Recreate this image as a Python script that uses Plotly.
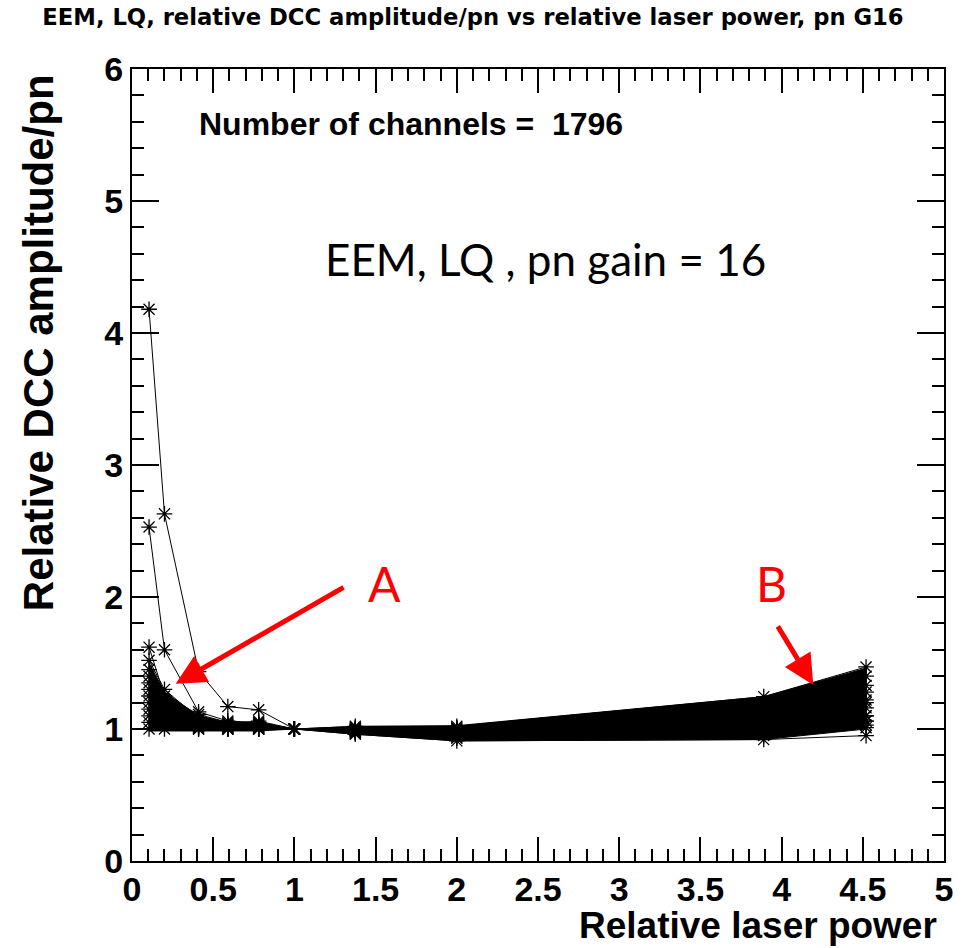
import plotly.graph_objects as go

# Relative laser power steps
laser_power = [0.105, 0.2, 0.41, 0.59, 0.78, 1.0, 1.375, 2.0, 3.89, 4.52]

# Envelope of all 1796 channels at each power step
band_upper = [1.50, 1.28, 1.10, 1.05, 1.05, 1.0, 1.02, 1.025, 1.245, 1.46]
band_lower = [0.985, 0.985, 0.985, 0.985, 0.985, 1.0, 0.96, 0.91, 0.92, 1.0]

# Selected channels: DCC amplitude/pn relative to the value at power 1
channel_rows = [
    [4.18, 2.63, 1.435, 1.17, 1.145, 1.0, 0.99, 0.98, 1.03, 1.06],
    [2.53, 1.60, 1.13, 1.06, 1.05, 1.0, 0.99, 0.98, 1.05, 1.10],
    [1.62, 1.25, 1.11, 1.05, 1.04, 1.0, 1.00, 1.00, 1.10, 1.20],
    [1.52, 1.30, 1.08, 1.04, 1.06, 1.0, 1.02, 1.02, 1.245, 1.47],
    [1.45, 1.20, 1.07, 1.03, 1.03, 1.0, 1.01, 1.01, 1.20, 1.40],
    [1.40, 1.15, 1.06, 1.03, 1.03, 1.0, 1.00, 1.00, 1.15, 1.33],
    [1.35, 1.22, 1.05, 1.02, 1.02, 1.0, 1.00, 0.99, 1.12, 1.28],
    [1.30, 1.10, 1.04, 1.02, 1.02, 1.0, 0.99, 0.98, 1.08, 1.22],
    [1.25, 1.18, 1.03, 1.01, 1.01, 1.0, 0.99, 0.97, 1.05, 1.16],
    [1.20, 1.08, 1.02, 1.01, 1.01, 1.0, 0.98, 0.96, 1.02, 1.10],
    [1.15, 1.12, 1.02, 1.00, 1.00, 1.0, 0.98, 0.95, 1.00, 1.06],
    [1.10, 1.05, 1.01, 1.00, 1.00, 1.0, 0.97, 0.94, 0.97, 1.03],
    [1.05, 1.03, 1.00, 1.00, 1.00, 1.0, 0.97, 0.93, 0.95, 1.01],
    [1.00, 1.00, 1.00, 1.00, 1.00, 1.0, 0.96, 0.91, 0.92, 0.95],
]

n_channels = 1796

x_ticks = [0, 0.5, 1, 1.5, 2, 2.5, 3, 3.5, 4, 4.5, 5]
y_ticks = [0, 1, 2, 3, 4, 5, 6]

ROOT_FONT = "Liberation Sans, Arial, Helvetica, sans-serif"
NOTE_FONT = "Lato, Carlito, Calibri, sans-serif"

fig = go.Figure()

# Dense band formed by the bulk of the channels
fig.add_trace(go.Scatter(
    x=laser_power + laser_power[::-1],
    y=band_upper + band_lower[::-1],
    mode="lines",
    fill="toself",
    fillcolor="black",
    line=dict(color="black", width=1),
    hoverinfo="skip",
    showlegend=False,
))

for row in channel_rows:
    fig.add_trace(go.Scatter(
        x=laser_power,
        y=row,
        mode="lines+markers",
        line=dict(color="black", width=1),
        marker=dict(symbol="asterisk-open", size=13,
                    line=dict(color="black", width=1.3)),
        showlegend=False,
    ))


def px_x(p):
    return (p - 132) / 818


def px_y(p):
    return (861 - p) / 792


annotations = [
    dict(text="Relative DCC amplitude/pn", textangle=-90,
         xref="paper", yref="paper", x=px_x(38), y=px_y(72),
         xanchor="center", yanchor="top", showarrow=False,
         font=dict(family=ROOT_FONT, size=42, color="black", weight="bold")),
    dict(text="Relative laser power",
         xref="paper", yref="paper", x=px_x(945), y=px_y(925),
         xanchor="right", yanchor="middle", showarrow=False,
         font=dict(family=ROOT_FONT, size=37, color="black", weight="bold")),
    dict(text=f"Number of channels =  {n_channels}",
         xref="paper", yref="paper", x=px_x(197), y=px_y(124),
         xanchor="left", yanchor="middle", showarrow=False,
         font=dict(family=ROOT_FONT, size=32, color="black", weight="bold")),
    dict(text="EEM, LQ , pn gain = 16",
         xref="paper", yref="paper", x=px_x(549), y=px_y(259),
         xanchor="center", yanchor="middle", showarrow=False,
         font=dict(family=NOTE_FONT, size=44, color="black")),
    dict(text="A",
         xref="paper", yref="paper", x=px_x(386), y=px_y(583),
         xanchor="center", yanchor="middle", showarrow=False,
         font=dict(family=NOTE_FONT, size=48, color="red")),
    dict(text="B",
         xref="paper", yref="paper", x=px_x(776), y=px_y(583),
         xanchor="center", yanchor="middle", showarrow=False,
         font=dict(family=NOTE_FONT, size=48, color="red")),
    # Arrows pointing at the two regions of interest
    dict(text="", x=0.269, y=1.342, ax=1.312, ay=2.08,
         xref="x", yref="y", axref="x", ayref="y",
         showarrow=True, arrowhead=2, arrowsize=1.2, arrowwidth=5,
         arrowcolor="red", standoff=0, startstandoff=0),
    dict(text="", x=4.195, y=1.334, ax=3.971, ay=1.789,
         xref="x", yref="y", axref="x", ayref="y",
         showarrow=True, arrowhead=2, arrowsize=1.2, arrowwidth=5,
         arrowcolor="red", standoff=0, startstandoff=0),
]

axis_common = dict(
    showgrid=False, zeroline=False,
    showline=True, linecolor="black", linewidth=2, mirror="allticks",
    ticks="inside", tickcolor="black", tickwidth=1.5,
    tickfont=dict(family=ROOT_FONT, size=34, color="black", weight="bold"),
)

fig.update_layout(
    width=965, height=948,
    margin=dict(l=132, r=15, t=69, b=87, pad=0),
    paper_bgcolor="white", plot_bgcolor="white",
    title=dict(
        text="EEM, LQ, relative DCC amplitude/pn vs relative laser power, pn G16",
        x=473 / 965, xanchor="center", y=1 - 17 / 948, yanchor="middle",
        font=dict(family="DejaVu Sans, sans-serif", size=22.7, color="black",
                  weight="bold"),
    ),
    xaxis=dict(range=[0, 5], tickvals=x_ticks, ticklen=24,
               ticklabelstandoff=-3,
               minor=dict(dtick=0.1, tick0=0, ticks="inside", ticklen=12,
                          tickcolor="black", tickwidth=1.5),
               **axis_common),
    yaxis=dict(range=[0, 6], tickvals=y_ticks, ticklen=27,
               minor=dict(dtick=0.2, tick0=0, ticks="inside", ticklen=12,
                          tickcolor="black", tickwidth=1.5),
               **axis_common),
    annotations=annotations,
    showlegend=False,
)

fig.write_html("out.html")
